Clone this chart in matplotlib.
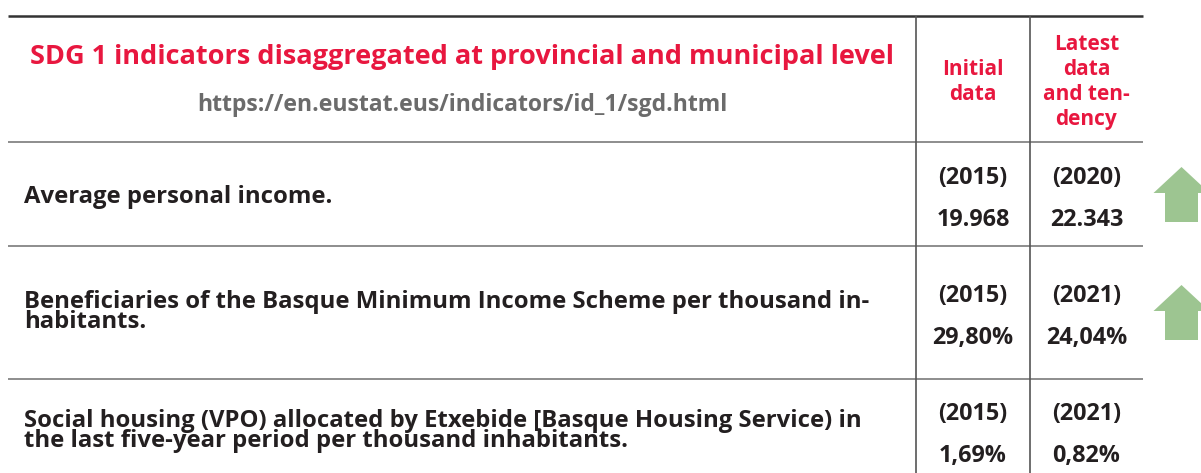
import matplotlib
matplotlib.use("Agg")
import matplotlib.pyplot as plt
from matplotlib.patches import Polygon

# ---- data ----
title = "SDG 1 indicators disaggregated at provincial and municipal level"
url = "https://en.eustat.eus/indicators/id_1/sgd.html"
col_headers = ["Initial\ndata", "Latest\ndata\nand ten-\ndency"]
indicators = [
    "Average personal income.",
    "Beneficiaries of the Basque Minimum Income Scheme per thousand in-\nhabitants.",
    "Social housing (VPO) allocated by Etxebide [Basque Housing Service) in\nthe last five-year period per thousand inhabitants.",
]
initial_years = ["(2015)", "(2015)", "(2015)"]
initial_values = ["19.968", "29,80%", "1,69%"]
latest_years = ["(2020)", "(2021)", "(2021)"]
latest_values = ["22.343", "24,04%", "0,82%"]
trends = ["up", "up", None]

# ---- layout ----
W, H = 1201, 473
RED = "#e8173f"
DARK = "#231f20"
GRAY = "#6b6b6b"
GREEN = "#9dc591"
FONT = "Open Sans"
BODY = 16.8
LABEL = 17.2

fig = plt.figure(figsize=(W / 100, H / 100), dpi=100)
ax = fig.add_axes([0, 0, 1, 1])
ax.set_xlim(0, W)
ax.set_ylim(H, 0)
ax.axis("off")

x_left, x_right = 8, 1143
x_c1, x_c2 = 916, 1030
y_top = 16
row_bounds = [142, 246, 379, 512]
row_mid = [198.5, 316.5, 434.5]
label_mid = [196.5, 312, 431]

# lines
ax.plot([x_left, x_right], [y_top, y_top], color="#333333", lw=1.8, solid_capstyle="butt")
for y in row_bounds[:-1]:
    ax.plot([x_left, x_right], [y, y], color="#7a7a7a", lw=1.2, solid_capstyle="butt")
for x in (x_c1, x_c2):
    ax.plot([x, x], [y_top, H], color="#555555", lw=1.2, solid_capstyle="butt")

# header
ax.text(462, 57, title, color=RED, fontsize=19.5, fontweight="bold", family=FONT,
        ha="center", va="center")
ax.text(462, 105, url, color=GRAY, fontsize=16.6, fontweight="bold", family=FONT,
        ha="center", va="center")
cx1 = (x_c1 + x_c2) / 2
cx2 = (x_c2 + x_right) / 2
ax.text(cx1, 82, col_headers[0], color=RED, fontsize=15, fontweight="bold", family=FONT,
        ha="center", va="center", linespacing=1.26)
ax.text(cx2, 82, col_headers[1], color=RED, fontsize=15, fontweight="bold", family=FONT,
        ha="center", va="center", linespacing=1.26)

# rows
for i, label in enumerate(indicators):
    mid = row_mid[i]
    ax.text(24, label_mid[i], label, color=DARK, fontsize=LABEL, fontweight="bold", family=FONT,
            ha="left", va="center", linespacing=0.78)
    ax.text(cx1, mid - 21, initial_years[i], color=DARK, fontsize=BODY, fontweight="bold",
            family=FONT, ha="center", va="center")
    ax.text(cx1, mid + 21, initial_values[i], color=DARK, fontsize=BODY, fontweight="bold",
            family=FONT, ha="center", va="center")
    ax.text(cx2, mid - 21, latest_years[i], color=DARK, fontsize=BODY, fontweight="bold",
            family=FONT, ha="center", va="center")
    ax.text(cx2, mid + 21, latest_values[i], color=DARK, fontsize=BODY, fontweight="bold",
            family=FONT, ha="center", va="center")
    if trends[i] == "up":
        ax_c = 1181.5
        tip = row_bounds[i] + 25 if i == 0 else row_bounds[i] + 39
        pts = [(ax_c, tip), (ax_c + 28, tip + 26), (ax_c + 16.5, tip + 26),
               (ax_c + 16.5, tip + 55), (ax_c - 16.5, tip + 55), (ax_c - 16.5, tip + 26),
               (ax_c - 28, tip + 26)]
        ax.add_patch(Polygon(pts, closed=True, color=GREEN, lw=0))

fig.savefig("out.png", dpi=100)
